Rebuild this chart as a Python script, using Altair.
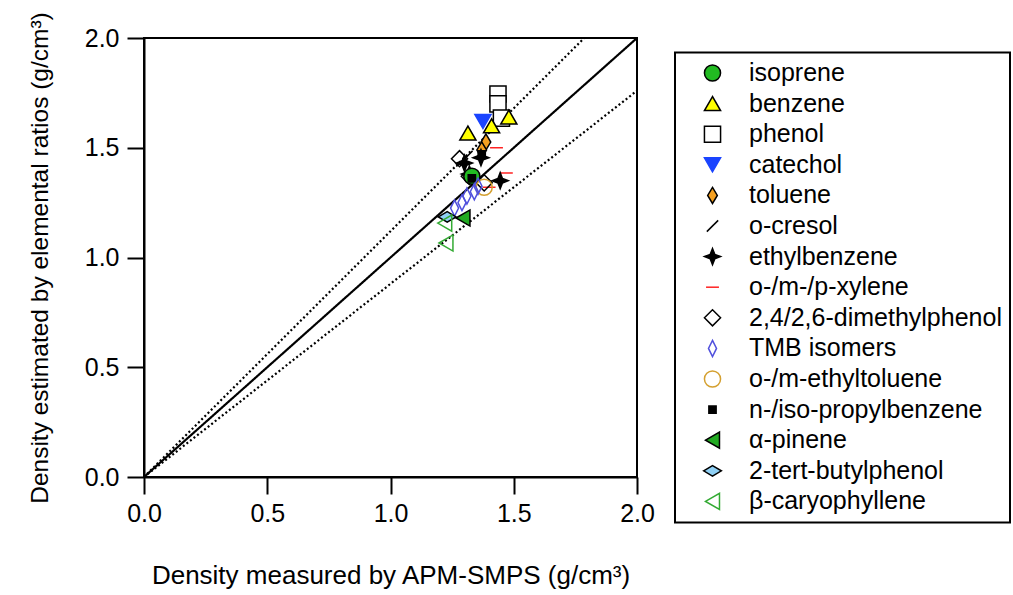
import altair as alt
import pandas as pd

# ---- legend / series definitions ----
compounds = ["isoprene", "benzene", "phenol", "catechol", "toluene", "o-cresol",
             "ethylbenzene", "o-/m-/p-xylene", "2,4/2,6-dimethylphenol", "TMB isomers",
             "o-/m-ethyltoluene", "n-/iso-propylbenzene", "α-pinene",
             "2-tert-butylphenol", "β-caryophyllene"]
shapes = ["circle", "triangle-up", "square", "triangle-down",
          "M0,-1L0.6,0L0,1L-0.6,0Z",
          "M-0.7,0.7L0.7,-0.7",
          "M0,-1L0.28,-0.28L1,0L0.28,0.28L0,1L-0.28,0.28L-1,0L-0.28,-0.28Z",
          "M-0.8,0L0.8,0",
          "diamond",
          "M0,-1L0.5,0L0,1L-0.5,0Z",
          "circle",
          "M-0.45,-0.45L0.45,-0.45L0.45,0.45L-0.45,0.45Z",
          "triangle-left",
          "M-1.1,0L0,-0.65L1.1,0L0,0.65Z",
          "triangle-left"]
fills = ["#22bb22", "#ffff00", "#ffffff", "#1a44ff", "#f5a020", "transparent",
         "#000000", "transparent", "transparent", "transparent", "transparent",
         "#000000", "#22aa22", "#8fd0f5", "transparent"]
strokes = ["#000000", "#000000", "#000000", "#1a44ff", "#000000", "#000000",
           "#000000", "#ff2222", "#000000", "#5050dd", "#d4a030",
           "#000000", "#000000", "#000000", "#33aa33"]

# ---- data points ----
pt_compound = ["phenol", "phenol", "phenol",
               "benzene", "benzene", "benzene",
               "catechol",
               "toluene", "toluene",
               "o-cresol", "o-cresol",
               "o-/m-/p-xylene", "o-/m-/p-xylene", "o-/m-/p-xylene",
               "2,4/2,6-dimethylphenol", "2,4/2,6-dimethylphenol", "2,4/2,6-dimethylphenol",
               "ethylbenzene", "ethylbenzene", "ethylbenzene", "ethylbenzene",
               "isoprene",
               "n-/iso-propylbenzene", "n-/iso-propylbenzene",
               "o-/m-ethyltoluene",
               "TMB isomers", "TMB isomers", "TMB isomers", "TMB isomers", "TMB isomers",
               "α-pinene",
               "2-tert-butylphenol",
               "β-caryophyllene", "β-caryophyllene"]
pt_x = [1.436, 1.436, 1.45,
        1.314, 1.41, 1.48,
        1.375,
        1.387, 1.37,
        1.29, 1.31,
        1.43, 1.47, 1.40,
        1.28, 1.32, 1.38,
        1.30, 1.367, 1.445, 1.32,
        1.33,
        1.37, 1.33,
        1.38,
        1.26, 1.29, 1.31, 1.34, 1.355,
        1.294,
        1.23,
        1.22, 1.225]
pt_y = [1.745, 1.70, 1.635,
        1.567, 1.60, 1.64,
        1.62,
        1.526, 1.49,
        1.44, 1.46,
        1.50, 1.385, 1.32,
        1.45, 1.37, 1.34,
        1.43, 1.455, 1.35, 1.38,
        1.37,
        1.47, 1.36,
        1.32,
        1.225, 1.25, 1.28, 1.30, 1.325,
        1.18,
        1.185,
        1.157, 1.066]

# ---- reference lines (1:1 and ±12 %) ----
line_id = ["1:1", "1:1", "+12%", "+12%", "-12%", "-12%"]
line_x = [0.0, 2.0, 0.0, 1.786, 0.0, 2.0]
line_y = [0.0, 2.0, 0.0, 2.0, 0.0, 1.76]

pts = pd.DataFrame({"compound": pt_compound, "x": pt_x, "y": pt_y})
lines = pd.DataFrame({"line": line_id, "x": line_x, "y": line_y})

FONT = "Liberation Sans"
ticks = [0.0, 0.5, 1.0, 1.5, 2.0]

xenc = alt.X("x:Q", scale=alt.Scale(domain=[0, 2], nice=False),
             axis=alt.Axis(values=ticks, format=".1f",
                           title="Density measured by APM-SMPS (g/cm³)"))
yenc = alt.Y("y:Q", scale=alt.Scale(domain=[0, 2], nice=False),
             axis=alt.Axis(values=ticks, format=".1f",
                           title="Density estimated by elemental ratios (g/cm³)"))

line_layer = alt.Chart(lines).mark_line(color="black", strokeWidth=2.2, clip=True).encode(
    x=xenc, y=yenc, detail="line:N",
    strokeDash=alt.StrokeDash("line:N", legend=None,
                              scale=alt.Scale(domain=["1:1", "+12%", "-12%"],
                                              range=[[1, 0], [2, 2.5], [2, 2.5]])),
)

legend = alt.Legend(title=None, orient="none", legendX=531, legendY=14.5,
                    strokeColor="black", padding=8, symbolOffset=17,
                    labelOffset=24, rowPadding=4.6, symbolSize=260,
                    symbolStrokeWidth=1.5, labelFontSize=25, labelFont=FONT,
                    labelColor="black", labelLimit=400)

pt_layer = alt.Chart(pts).mark_point(size=260, strokeWidth=1.5, opacity=1).encode(
    x="x:Q", y="y:Q",
    shape=alt.Shape("compound:N", scale=alt.Scale(domain=compounds, range=shapes), legend=legend),
    fill=alt.Fill("compound:N", scale=alt.Scale(domain=compounds, range=fills), legend=legend),
    stroke=alt.Stroke("compound:N", scale=alt.Scale(domain=compounds, range=strokes), legend=legend),
)

chart = alt.layer(line_layer, pt_layer).properties(
    width=493, height=439,
    autosize=alt.AutoSizeParams(type="none"),
    padding={"left": 144, "top": 38, "right": 376, "bottom": 118},
).configure_view(
    stroke="black", strokeWidth=2
).configure_axis(
    grid=False, domainColor="black", domainWidth=2, tickColor="black", tickWidth=2,
    tickSize=17, labelFont=FONT, labelFontSize=25, labelColor="black", labelFlush=False,
    titleFont=FONT, titleFontWeight="normal", titleColor="black",
).configure_axisX(titlePadding=36, labelPadding=7, titleFontSize=26
).configure_axisY(titlePadding=32, labelPadding=8, titleFontSize=24.5
).configure_legend(strokeWidth=2)

chart.save("out.html", embed_options={"renderer": "svg", "actions": False})
